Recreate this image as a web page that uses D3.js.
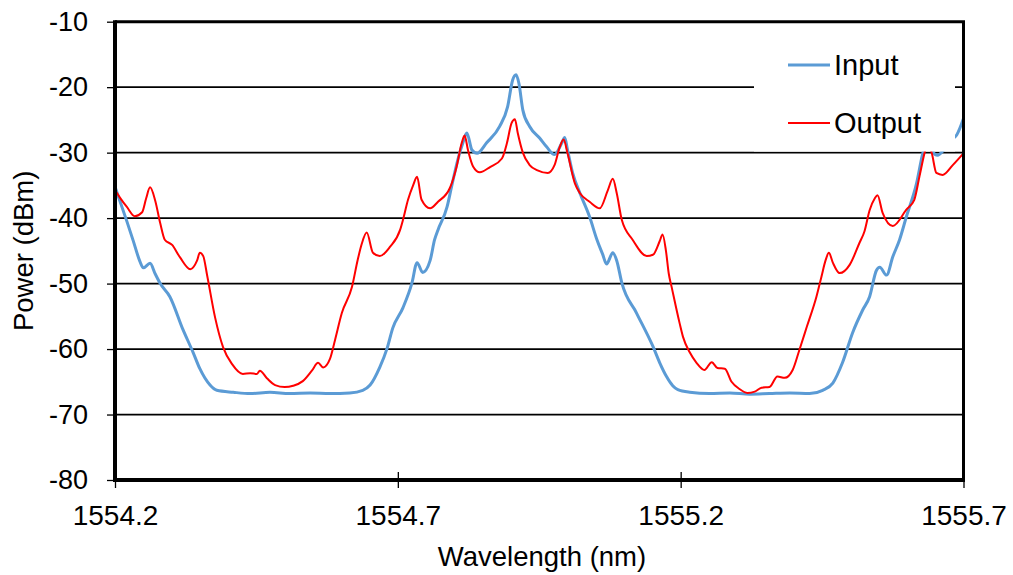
<html>
<head>
<meta charset="utf-8">
<script src="https://d3js.org/d3.v7.min.js"></script>
<style>
  body { margin: 0; background: #fff; }
  text { font-family: "Liberation Sans", Arial, sans-serif; fill: #000; }
  .axis .domain { display: none; }
  .axis line { stroke: #000; stroke-width: 1.3; }
</style>
</head>
<body>
<svg id="chart" width="1013" height="575"></svg>
<script>
// values
const xTicks = [1554.2, 1554.7, 1555.2, 1555.7];
const yTicks = [-80, -70, -60, -50, -40, -30, -20, -10];
const seriesNames = ["Input", "Output"];
const seriesColors = ["#5b9bd5", "#ff0000"];

const inputWl = [1554.200, 1554.221, 1554.232, 1554.244, 1554.250, 1554.262, 1554.271, 1554.280, 1554.297, 1554.320,
  1554.338, 1554.350, 1554.368, 1554.380, 1554.409, 1554.439, 1554.474, 1554.509, 1554.545, 1554.580,
  1554.615, 1554.638, 1554.651, 1554.668, 1554.681, 1554.691, 1554.709, 1554.725, 1554.734, 1554.744,
  1554.757, 1554.765, 1554.771, 1554.787, 1554.795, 1554.806, 1554.815, 1554.822, 1554.831, 1554.840,
  1554.857, 1554.880, 1554.894, 1554.903, 1554.909, 1554.914, 1554.921, 1554.933, 1554.951, 1554.963,
  1554.977, 1554.990, 1554.995, 1555.000, 1555.009, 1555.022, 1555.039, 1555.052, 1555.062, 1555.069,
  1555.080, 1555.087, 1555.096, 1555.122, 1555.151, 1555.163, 1555.175, 1555.186, 1555.195, 1555.216,
  1555.251, 1555.287, 1555.322, 1555.357, 1555.393, 1555.428, 1555.451, 1555.469, 1555.486, 1555.504,
  1555.522, 1555.534, 1555.546, 1555.552, 1555.564, 1555.575, 1555.587, 1555.599, 1555.617, 1555.628,
  1555.636, 1555.645, 1555.654, 1555.666, 1555.679, 1555.688, 1555.700];
const inputDbm = [-35.2, -40.5, -43.4, -46.6, -47.6, -46.9, -48.5, -50.0, -52.0, -57.0,
  -60.5, -63.0, -65.5, -66.3, -66.6, -66.8, -66.6, -66.8, -66.7, -66.8,
  -66.7, -66.3, -65.5, -62.8, -59.9, -56.8, -53.7, -49.9, -46.8, -48.3,
  -46.5, -43.3, -41.8, -38.3, -35.2, -31.1, -28.5, -27.0, -29.6, -30.1,
  -28.5, -26.0, -23.0, -18.9, -18.1, -19.4, -23.5, -26.0, -27.8, -29.1,
  -30.3, -28.5, -27.7, -29.6, -33.1, -36.2, -39.8, -43.3, -45.5, -47.0,
  -45.3, -46.5, -49.9, -54.5, -59.6, -62.1, -64.2, -65.6, -66.2, -66.6,
  -66.8, -66.7, -66.9, -66.8, -66.7, -66.8, -66.3, -65.2, -62.1, -57.5,
  -54.0, -52.0, -48.0, -47.5, -48.7, -45.9, -43.3, -39.8, -34.7, -30.1,
  -28.0, -29.8, -30.4, -29.5, -28.0, -27.3, -24.8];

const outputWl = [1554.200, 1554.209, 1554.221, 1554.235, 1554.248, 1554.255, 1554.262, 1554.271, 1554.280, 1554.288,
  1554.301, 1554.315, 1554.333, 1554.345, 1554.350, 1554.356, 1554.363, 1554.377, 1554.391, 1554.407,
  1554.426, 1554.439, 1554.451, 1554.456, 1554.469, 1554.483, 1554.500, 1554.515, 1554.532, 1554.548,
  1554.559, 1554.568, 1554.580, 1554.589, 1554.601, 1554.619, 1554.629, 1554.636, 1554.645, 1554.656,
  1554.668, 1554.686, 1554.704, 1554.709, 1554.718, 1554.727, 1554.734, 1554.742, 1554.757, 1554.771,
  1554.792, 1554.804, 1554.813, 1554.818, 1554.824, 1554.833, 1554.845, 1554.863, 1554.884, 1554.893,
  1554.901, 1554.907, 1554.912, 1554.921, 1554.933, 1554.947, 1554.965, 1554.977, 1554.986, 1554.993,
  1555.000, 1555.013, 1555.022, 1555.039, 1555.057, 1555.071, 1555.080, 1555.087, 1555.096, 1555.115,
  1555.140, 1555.151, 1555.163, 1555.168, 1555.174, 1555.179, 1555.184, 1555.198, 1555.204, 1555.216,
  1555.228, 1555.242, 1555.255, 1555.265, 1555.278, 1555.290, 1555.304, 1555.318, 1555.331, 1555.343,
  1555.357, 1555.371, 1555.384, 1555.398, 1555.410, 1555.423, 1555.440, 1555.449, 1555.456, 1555.462,
  1555.469, 1555.481, 1555.499, 1555.516, 1555.525, 1555.534, 1555.543, 1555.548, 1555.557, 1555.575,
  1555.599, 1555.613, 1555.622, 1555.631, 1555.636, 1555.644, 1555.652, 1555.663, 1555.681, 1555.700];
const outputDbm = [-35.7, -36.9, -38.3, -39.7, -39.1, -37.0, -35.3, -37.3, -40.8, -43.3,
  -44.1, -46.0, -47.8, -46.5, -45.3, -45.8, -48.8, -55.2, -59.7, -62.3,
  -63.8, -63.7, -63.8, -63.3, -64.5, -65.5, -65.8, -65.6, -64.9, -63.3,
  -62.1, -62.8, -61.5, -58.6, -54.5, -50.5, -46.4, -44.0, -42.2, -45.3,
  -45.8, -44.4, -41.8, -40.3, -37.2, -35.0, -33.7, -37.2, -38.5, -37.5,
  -35.4, -32.1, -28.5, -27.4, -29.6, -32.1, -33.0, -32.2, -30.9, -28.5,
  -25.5, -24.9, -27.0, -30.0, -31.9, -32.7, -33.1, -31.9, -29.2, -28.0,
  -30.1, -34.7, -36.2, -37.5, -38.5, -35.8, -34.0, -36.2, -40.3, -43.3,
  -45.8, -45.6, -43.5, -42.5, -45.0, -48.5, -50.5, -56.0, -58.1, -60.5,
  -62.1, -63.2, -62.0, -62.9, -63.0, -65.0, -66.1, -66.7, -66.5, -65.9,
  -65.8, -64.2, -64.4, -63.2, -60.1, -56.6, -52.0, -48.9, -46.5, -45.3,
  -46.8, -48.4, -47.1, -43.8, -42.0, -38.8, -37.0, -36.5, -39.2, -41.2,
  -38.7, -37.2, -33.7, -30.1, -28.5, -30.1, -33.1, -33.4, -31.9, -30.1];

const svg = d3.select("#chart");
const plotLeft = 115, plotRight = 963.5, plotTop = 21.7, plotBottom = 480;

const x = d3.scaleLinear().domain([1554.2, 1555.7]).range([plotLeft, plotRight]);
const y = d3.scaleLinear().domain([-80, -10]).range([plotBottom, plotTop]);

// horizontal gridlines
svg.append("g")
    .selectAll("line")
    .data(yTicks.filter(d => d > -80 && d < -10))
    .join("line")
    .attr("x1", plotLeft).attr("x2", plotRight)
    .attr("y1", d => y(d)).attr("y2", d => y(d))
    .attr("stroke", "#000")
    .attr("stroke-width", 1.8);

// y axis (plain hyphen for the minus, like the original)
svg.append("g")
    .attr("class", "axis")
    .attr("transform", `translate(${plotLeft},0)`)
    .call(d3.axisLeft(y).tickValues(yTicks).tickSizeInner(8).tickSizeOuter(0).tickPadding(19).tickFormat(d => String(d)))
    .selectAll("text")
    .style("font-size", "27px");

// x axis
const xAxis = svg.append("g")
    .attr("class", "axis")
    .attr("transform", `translate(0,${plotBottom})`)
    .call(d3.axisBottom(x).tickValues(xTicks).tickSizeInner(8).tickSizeOuter(0).tickPadding(17).tickFormat(d => d.toFixed(1)));
xAxis.selectAll("line").attr("y1", -8);
xAxis.selectAll("text").style("font-size", "28px");

// data lines
const line = d3.line()
    .x(d => x(d[0]))
    .y(d => y(d[1]))
    .curve(d3.curveMonotoneX);

const inputPts = inputWl.map((w, i) => [w, inputDbm[i]]);
const outputPts = outputWl.map((w, i) => [w, outputDbm[i]]);

svg.append("path")
    .datum(inputPts)
    .attr("d", line)
    .attr("fill", "none")
    .attr("stroke", seriesColors[0])
    .attr("stroke-width", 3)
    .attr("stroke-linejoin", "round");

svg.append("path")
    .datum(outputPts)
    .attr("d", line)
    .attr("fill", "none")
    .attr("stroke", seriesColors[1])
    .attr("stroke-width", 2)
    .attr("stroke-linejoin", "round");

// frame
svg.append("line").attr("x1", plotLeft).attr("x2", plotLeft).attr("y1", plotTop - 1.5).attr("y2", plotBottom + 2)
    .attr("stroke", "#000").attr("stroke-width", 4);
svg.append("line").attr("x1", plotLeft - 2).attr("x2", plotRight + 1.5).attr("y1", plotBottom).attr("y2", plotBottom)
    .attr("stroke", "#000").attr("stroke-width", 4);
svg.append("line").attr("x1", plotLeft).attr("x2", plotRight + 1.5).attr("y1", plotTop).attr("y2", plotTop)
    .attr("stroke", "#000").attr("stroke-width", 3);
svg.append("line").attr("x1", plotRight).attr("x2", plotRight).attr("y1", plotTop).attr("y2", plotBottom)
    .attr("stroke", "#000").attr("stroke-width", 3);

// legend
const legend = svg.append("g");
legend.append("rect")
    .attr("x", 754).attr("y", 30)
    .attr("width", 201).attr("height", 121.5)
    .attr("fill", "#fff");
seriesNames.forEach((name, i) => {
    const ly = 65 + i * 58;
    legend.append("line")
        .attr("x1", 788).attr("x2", 830)
        .attr("y1", ly).attr("y2", ly)
        .attr("stroke", seriesColors[i])
        .attr("stroke-width", i === 0 ? 3 : 2);
    legend.append("text")
        .attr("x", 834).attr("y", ly + 10)
        .style("font-size", "29px")
        .text(name);
});

// axis titles
svg.append("text")
    .attr("x", 542).attr("y", 566)
    .attr("text-anchor", "middle")
    .style("font-size", "27.5px")
    .text("Wavelength (nm)");

svg.append("text")
    .attr("transform", `translate(33,${(plotTop + plotBottom) / 2}) rotate(-90)`)
    .attr("text-anchor", "middle")
    .style("font-size", "27.5px")
    .text("Power (dBm)");
</script>
</body>
</html>
